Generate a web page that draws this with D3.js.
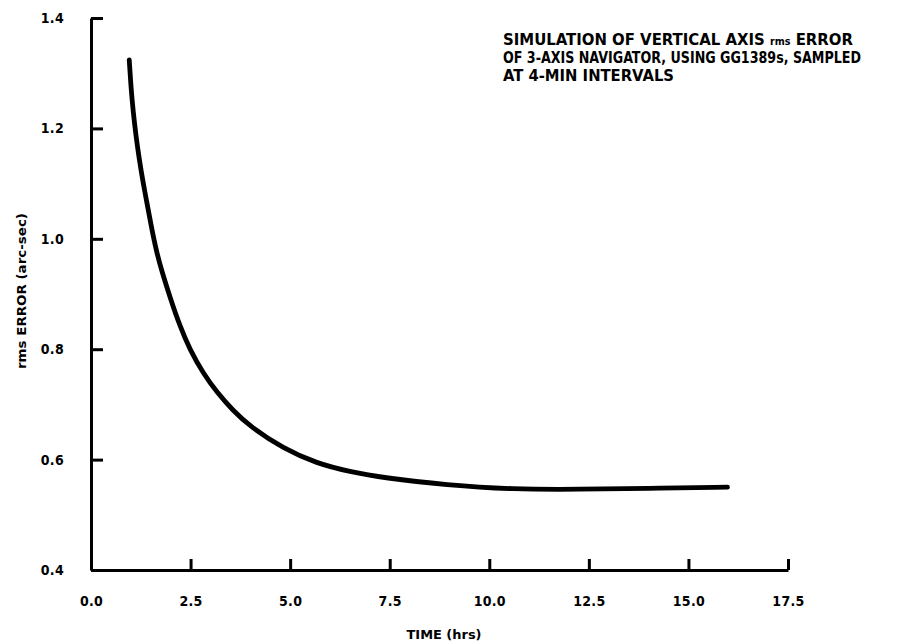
<!DOCTYPE html>
<html>
<head>
<meta charset="utf-8">
<script src="https://cdn.jsdelivr.net/npm/d3@7"></script>
<style>
  html, body { margin: 0; padding: 0; background: #fff; }
  svg text { font-family: "DejaVu Sans Condensed", "Liberation Sans Narrow", "DejaVu Sans", sans-serif; font-weight: bold; fill: #000; }
</style>
</head>
<body>
<svg id="chart" width="911" height="644"></svg>
<script>
// ---- Data ----
const timeHrs = [0.96, 1.00, 1.06, 1.13, 1.21, 1.31, 1.41, 1.52, 1.65, 1.78, 1.98, 2.23, 2.49, 2.82, 3.16, 3.55, 3.99, 4.83, 5.67, 6.50, 7.34, 8.93, 10.60, 12.27, 13.95, 15.98];
const rmsError = [1.324, 1.278, 1.229, 1.186, 1.145, 1.101, 1.063, 1.020, 0.975, 0.941, 0.895, 0.842, 0.798, 0.756, 0.722, 0.690, 0.660, 0.620, 0.593, 0.578, 0.567, 0.554, 0.546, 0.546, 0.548, 0.550];
const xTicks = [0, 2.5, 5, 7.5, 10, 12.5, 15, 17.5];
const yTicks = [0.4, 0.6, 0.8, 1.0, 1.2, 1.4];
const titleLines = ["SIMULATION OF VERTICAL AXIS |rms| ERROR", "OF 3-AXIS NAVIGATOR, USING GG1389s, SAMPLED", "AT 4-MIN INTERVALS"];
const xLabel = "TIME (hrs)";
const yLabel = "rms ERROR (arc-sec)";

// ---- Layout ----
const svg = d3.select("#chart");
const x = d3.scaleLinear().domain([0, 17.5]).range([91, 788]);
const y = d3.scaleLinear().domain([0.4, 1.4]).range([570, 18]);

// Axes
const yAxis = d3.axisLeft(y).tickValues(yTicks).tickFormat(d3.format(".1f"))
  .tickSizeInner(-12).tickSizeOuter(0).tickPadding(27);
const xAxis = d3.axisBottom(x).tickValues(xTicks).tickFormat(d3.format(".1f"))
  .tickSizeInner(-11).tickSizeOuter(0).tickPadding(26);

const gy = svg.append("g").attr("transform", `translate(${x(0)},0)`).call(yAxis);
const gx = svg.append("g").attr("transform", `translate(0,${y(0.4)})`).call(xAxis);

[gy, gx].forEach(g => {
  g.select(".domain").attr("stroke", "#000").attr("stroke-width", 3);
  g.selectAll(".tick line").attr("stroke", "#000").attr("stroke-width", 3);
  g.selectAll(".tick text").style("font-size", "14px").style("letter-spacing", "0.3px").attr("fill", "#000");
});

// Curve
const pts = timeHrs.map((t, i) => [t, rmsError[i]]);
const line = d3.line().x(d => x(d[0])).y(d => y(d[1])).curve(d3.curveBasis);
svg.append("path").datum(pts)
  .attr("d", line)
  .attr("fill", "none")
  .attr("stroke", "#000")
  .attr("stroke-width", 4.8)
  .attr("stroke-linecap", "round")
  .attr("stroke-linejoin", "round");

// Title (one text element per line, fitted to the reference widths)
const titleWidths = [350, 358, 171];
titleLines.forEach((ln, i) => {
  const t = svg.append("text").attr("x", 503).attr("y", 45 + i * 18)
    .style("font-size", "15.5px")
    .attr("textLength", titleWidths[i]).attr("lengthAdjust", "spacingAndGlyphs");
  ln.split("|").forEach((p, j) => {
    const ts = t.append("tspan").text(p);
    if (j % 2 === 1) ts.style("font-size", "10px");
  });
});

// Axis titles
svg.append("text").attr("x", 444).attr("y", 639).attr("text-anchor", "middle")
  .style("font-size", "13px").attr("textLength", 75).attr("lengthAdjust", "spacingAndGlyphs").text(xLabel);
svg.append("text").attr("transform", "translate(26,291) rotate(-90)").attr("text-anchor", "middle")
  .style("font-size", "11.5px").attr("textLength", 156).attr("lengthAdjust", "spacingAndGlyphs").text(yLabel);
</script>
</body>
</html>
